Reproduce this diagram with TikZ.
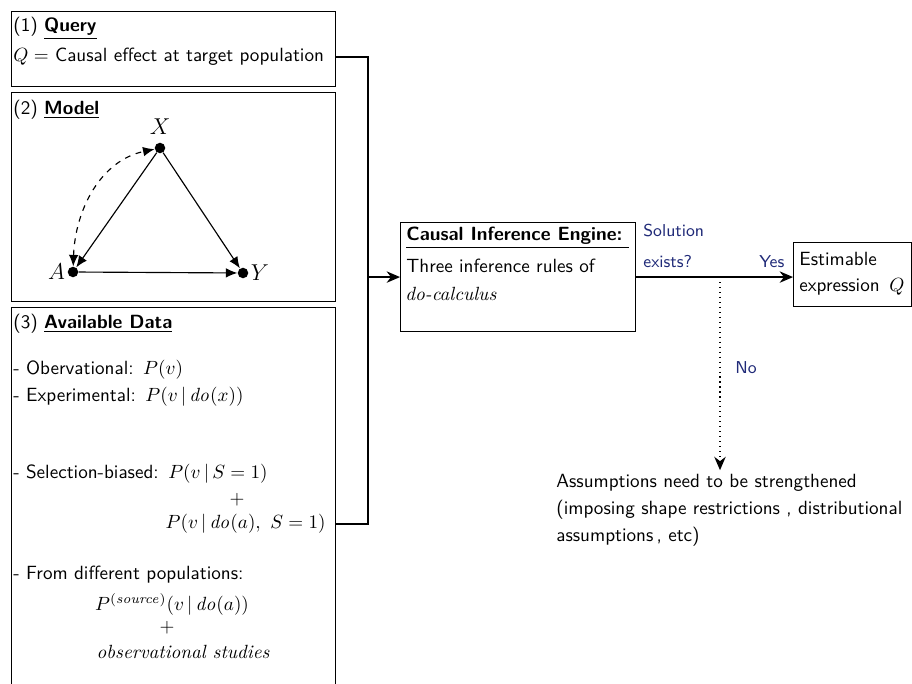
\documentclass[tikz,border=0pt]{standalone}
\usepackage{amsmath}
\usepackage{amssymb}
\usetikzlibrary{calc}
\usetikzlibrary{positioning}
\usetikzlibrary{arrows.meta}
\renewcommand{\familydefault}{\sfdefault}
\definecolor{labelnavy}{RGB}{32,42,120}

\tikzset{
  panel/.style={draw,line width=0.6pt,inner sep=0pt,anchor=north west},
  txt/.style={inner sep=0pt,anchor=west},
  vdot/.style={circle,fill,inner sep=0pt,minimum size=5.5pt},
  flow/.style={line width=0.6pt,-{Stealth[length=7pt,width=6pt]}},
}

\begin{document}
\begin{tikzpicture}[x=0.523pt,y=-0.523pt,>={Latex[length=6pt,width=5pt]}]
      \clip (0,0) rectangle (912,684);
      % boxes
      \node[panel,minimum width=169.5pt,minimum height=39.2pt] (query) at (11,11) {};
      \node[panel,minimum width=169.5pt,minimum height=109.3pt] (model) at (11,92) {};
      \node[panel,minimum width=169.5pt,minimum height=205pt] (data) at (11,307) {};
      \node[panel,minimum width=122.9pt,minimum height=57pt] (engine) at (400,222) {};
      \node[panel,minimum width=61.7pt,minimum height=33.5pt] (est) at (793,242) {};

      % (1) query
      \node[txt] (qhead) at (13,28) {(1) \underline{\textbf{Query}}};
      \node[txt] (qtext) at (13,57) {$Q =$ Causal effect at target population};

      % (2) model
      \node[txt] (mhead) at (13,110) {(2) \underline{\textbf{Model}}};
      \node[vdot] (X) at (160,148) {};
      \node[vdot] (A) at (73,272) {};
      \node[vdot] (Y) at (243,273) {};
      \node[anchor=south,inner sep=1pt,font=\large] (lX) at ([yshift=3pt] X.north) {$X$};
      \node[anchor=east,inner sep=1pt,font=\large] (lA) at (A.west) {$A$};
      \node[anchor=west,inner sep=1pt,font=\large] (lY) at (Y.east) {$Y$};
      \draw[->,line width=0.6pt] (X) -- (A);
      \draw[->,line width=0.6pt] (X) -- (Y);
      \draw[->,line width=0.6pt] (A) -- (Y);
      \draw[<->,dashed,line width=0.6pt] (A) to[out=88,in=192] (X);

      % (3) data
      \node[txt] (dhead) at (13,324) {(3) \underline{\textbf{Available Data}}};
      \node[txt] (d1) at (13,370) {- Obervational:\enspace$P(v)$};
      \node[txt] (d2) at (13,397) {- Experimental:\enspace$P(v \,|\, \mathit{do}(x))$};
      \node[txt] (d3) at (13,474) {- Selection-biased:\enspace$P(v \,|\, S = 1)$};
      \node[inner sep=0pt] (d3plus) at (237,500) {$+$};
      \node[txt,anchor=east] (d3b) at (326,524) {$P(v \,|\, \mathit{do}(a),\ S = 1)$};
      \node[txt] (d4) at (13,575) {- From different populations:};
      \node[inner sep=0pt] (d4a) at (172,604) {$P^{(\mathit{source})}(v \,|\, \mathit{do}(a))$};
      \node[inner sep=0pt] (d4plus) at (167,628) {$+$};
      \node[inner sep=0pt] (d4b) at (183,652) {\rmfamily\itshape observational studies};

      % engine
      \node[txt] (ehead) at (406,238) {\underline{\textbf{Causal Inference Engine:}\ }};
      \node[txt] (e1) at (406,266) {Three inference rules of};
      \node[txt] (e2) at (405,294) {\rmfamily\itshape do-calculus};

      % result
      \node[txt] (est1) at (799,259) {Estimable};
      \node[txt] (est2) at (799,287) {expression\enspace$Q$};

      % connectors into the engine
      \coordinate (j) at (368,0);
      \draw[line width=0.6pt] (query.east |- qtext) -- (j |- qtext) -- (j |- d3b) -- (data.east |- d3b);
      \draw[flow] (j |- engine.west) -- (engine.west);

      % decision
      \coordinate (split) at (720,0);
      \draw[flow] (engine.east) -- (engine.east -| est.west);
      \node[txt,anchor=north west,align=left,text=labelnavy,font=\small] (sol) at (643,224) {Solution\\[5pt]exists?};
      \node[txt,text=labelnavy,font=\small] (yes) at (759,262) {Yes};
      \node[txt,anchor=north west,align=left] (assume) at (556,474) {Assumptions need to be strengthened\\[2pt](imposing shape restrictions , distributional\\[2pt]assumptions\,, etc)};
      \draw[dotted,line width=0.6pt,-{Stealth[length=7pt,width=6pt]}] (split |- engine.east) -- ([yshift=2pt] split |- assume.north);
      \node[txt,text=labelnavy,font=\small] (no) at (735,368) {No};

    \end{tikzpicture}
\end{document}
